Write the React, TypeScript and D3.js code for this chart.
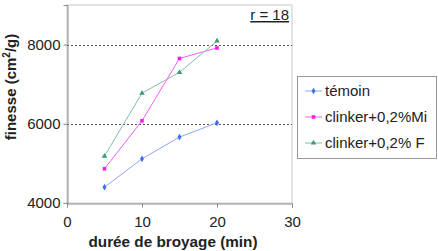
import React, { useEffect, useRef } from 'react';
import * as d3 from 'd3';

const durations = [5, 10, 15, 20];
const temoin = [4400, 5115, 5665, 6025];
const clinkerMi = [4865, 6075, 7650, 7915];
const clinkerF = [5185, 6775, 7300, 8090];
const xTicks = [0, 10, 20, 30];
const yTicks = [4000, 6000, 8000];
const gridValues = [6000, 8000];

const series = [
  { name: 'témoin', values: temoin, color: '#3d6cf0', line: '#8fa6f3', symbol: d3.symbolDiamond },
  { name: 'clinker+0,2%Mi', values: clinkerMi, color: '#f21ee6', line: '#f45ff0', symbol: d3.symbolSquare },
  { name: 'clinker+0,2% F', values: clinkerF, color: '#3f9a72', line: '#7fc0a3', symbol: d3.symbolTriangle },
];

const App: React.FC = () => {
  const svgRef = useRef<SVGSVGElement>(null);

  useEffect(() => {
    const svg = d3.select(svgRef.current);
    svg.selectAll('*').remove();
    const font = 'Liberation Sans, Arial, sans-serif';

    const left = 67, right = 292, top = 5, bottom = 203;
    const x = d3.scaleLinear().domain([0, 30]).range([left, right]);
    const y = d3.scaleLinear().domain([4000, 9000]).range([bottom, top]);

    // plot frame
    svg.append('rect')
      .attr('x', left).attr('y', top)
      .attr('width', right - left).attr('height', bottom - top)
      .attr('fill', 'white').attr('stroke', '#c8c8c8').attr('stroke-width', 1);

    // gridlines
    svg.append('g').selectAll('line').data(gridValues).enter().append('line')
      .attr('x1', left).attr('x2', right)
      .attr('y1', d => Math.round(y(d)) + 0.5).attr('y2', d => Math.round(y(d)) + 0.5)
      .attr('stroke', '#555').attr('stroke-dasharray', '2,2');

    // axes
    const xAxis = svg.append('g')
      .attr('transform', `translate(0, ${bottom + 0.5})`)
      .call(d3.axisBottom(x).tickValues(xTicks).tickSize(4).tickFormat(d3.format('d')));
    const yAxis = svg.append('g')
      .attr('transform', `translate(${left + 0.5}, 0)`)
      .call(d3.axisLeft(y).tickValues(yTicks).tickSize(4).tickFormat(d3.format('d')));
    [xAxis, yAxis].forEach(a => {
      a.select('.domain').attr('stroke', '#888');
      a.selectAll('.tick line').attr('stroke', '#888');
      a.selectAll('text').attr('font-family', font).attr('font-size', 15).attr('fill', '#222');
    });
    xAxis.selectAll('text').attr('y', 10).attr('dy', '0.9em');
    yAxis.selectAll('text').attr('x', -7);

    // series
    const line = d3.line<number>().x((_, i) => x(durations[i])).y(d => y(d));
    series.forEach(s => {
      svg.append('path').datum(s.values)
        .attr('d', line).attr('fill', 'none')
        .attr('stroke', s.line).attr('stroke-width', 1);
      svg.append('g').selectAll('path').data(s.values).enter().append('path')
        .attr('d', d3.symbol().type(s.symbol).size(13))
        .attr('transform', (d, i) => `translate(${x(durations[i])}, ${y(d)})`)
        .attr('fill', s.color);
    });

    // r = 18
    svg.append('text')
      .attr('x', 289).attr('y', 20).attr('text-anchor', 'end')
      .attr('font-family', font).attr('font-size', 15).attr('fill', '#222')
      .attr('text-decoration', 'underline')
      .text('r = 18');

    // axis titles
    svg.append('text')
      .attr('x', 173).attr('y', 247).attr('text-anchor', 'middle')
      .attr('font-family', font).attr('font-size', 15).attr('font-weight', 'bold').attr('fill', '#222')
      .attr('textLength', 169).attr('lengthAdjust', 'spacingAndGlyphs')
      .text('durée de broyage (min)');
    const yt = svg.append('text')
      .attr('transform', `translate(16, 87) rotate(-90)`)
      .attr('text-anchor', 'middle')
      .attr('font-family', font).attr('font-size', 15).attr('font-weight', 'bold').attr('fill', '#222');
    yt.append('tspan').text('finesse (cm');
    yt.append('tspan').attr('font-size', 10).attr('dy', -6).text('2');
    yt.append('tspan').attr('dy', 6).text('/g)');

    // legend
    const lg = svg.append('g');
    lg.append('rect')
      .attr('x', 297.5).attr('y', 76.5).attr('width', 139).attr('height', 82)
      .attr('fill', 'white').attr('stroke', '#999');
    series.forEach((s, i) => {
      const ly = 91 + i * 26;
      lg.append('line')
        .attr('x1', 305).attr('x2', 322).attr('y1', ly).attr('y2', ly)
        .attr('stroke', s.line).attr('stroke-width', 1);
      lg.append('path')
        .attr('d', d3.symbol().type(s.symbol).size(13))
        .attr('transform', `translate(313.5, ${ly})`).attr('fill', s.color);
      lg.append('text')
        .attr('x', 325).attr('y', ly + 5)
        .attr('font-family', font).attr('font-size', 15).attr('fill', '#222')
        .text(s.name);
    });
  }, []);

  return <svg ref={svgRef} width={438} height={251} style={{ position: 'absolute', left: 0, top: 0 }} />;
};

export default App;
